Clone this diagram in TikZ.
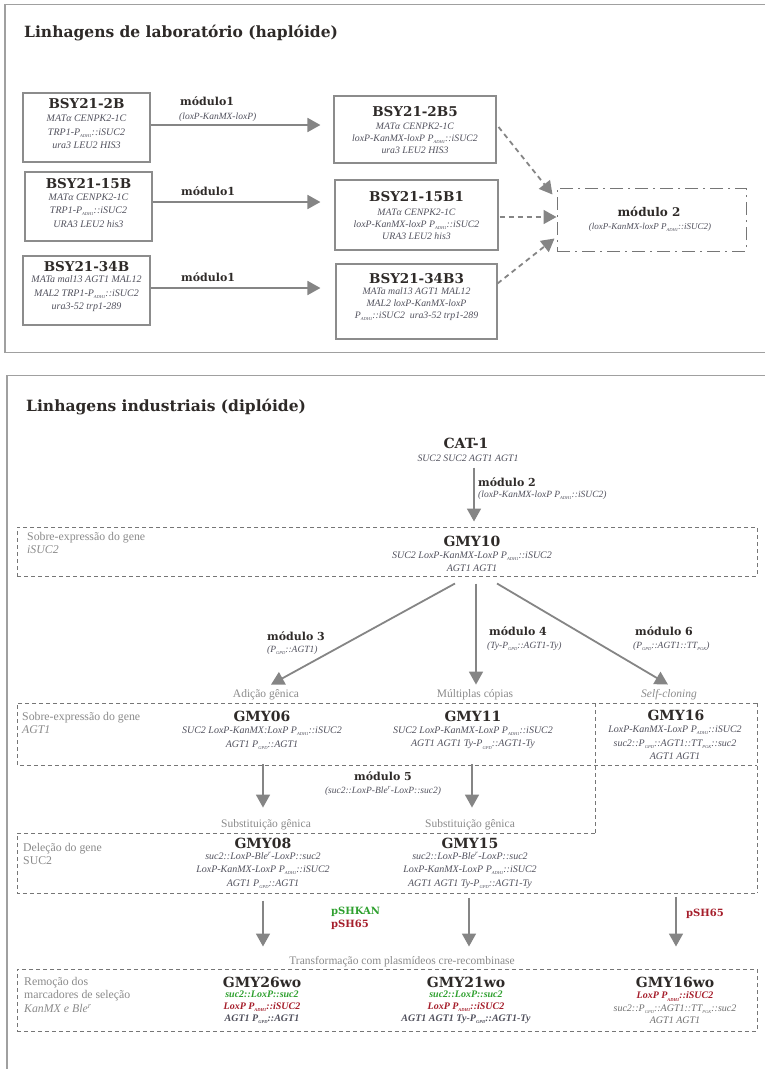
\documentclass[tikz,border=0pt]{standalone}
\usepackage{fontspec}
\setmainfont{Liberation Serif}
\newfontfamily\djv{DejaVu Serif}
\usetikzlibrary{arrows.meta,calc}
\definecolor{titc}{HTML}{2E2A28}
\definecolor{genoc}{HTML}{50505C}
\definecolor{labc}{HTML}{8A8A8A}
\definecolor{arrc}{HTML}{858585}
\definecolor{framec}{HTML}{A0A0A0}
\definecolor{boxc}{HTML}{8C8C8C}
\definecolor{dashc}{HTML}{767676}
\definecolor{grn}{HTML}{2FA02F}
\definecolor{rd}{HTML}{A51E2B}
\newcommand\sbx[1]{\raisebox{-0.45ex}{\fontsize{4.5}{5}\selectfont #1}}
\tikzset{
 frame/.style={draw=framec, line width=1.8pt},
 ttl/.style={font=\djv\bfseries\fontsize{15.5}{18}\selectfont, text=titc, inner sep=0, anchor=west},
 strain/.style={font=\djv\bfseries\fontsize{13.5}{15}\selectfont, text=titc, inner sep=0},
 gmy/.style={font=\djv\bfseries\fontsize{14}{16}\selectfont, text=titc, inner sep=0},
 geno/.style={font=\itshape\fontsize{10}{13.5}\selectfont, text=genoc, align=center, inner sep=0},
 genos/.style={font=\itshape\fontsize{9.8}{12}\selectfont, text=genoc, align=center, inner sep=0},
 mod/.style={font=\djv\bfseries\fontsize{11}{13}\selectfont, text=titc, inner sep=0},
 modp/.style={font=\itshape\fontsize{9.5}{12}\selectfont, text=genoc, inner sep=0},
 glab/.style={font=\fontsize{11.8}{13.5}\selectfont, text=labc, align=left, inner sep=0},
 catlab/.style={font=\fontsize{11.5}{12}\selectfont, text=labc, inner sep=0},
 labbox/.style={draw=boxc, line width=1.1pt, inner sep=0},
 arr/.style={draw=arrc, line width=1.8pt, -{Triangle[length=13pt,width=14pt]}},
 darr/.style={arr, dash pattern=on 5pt off 4pt},
 dbox/.style={draw=dashc, line width=1pt, dash pattern=on 4pt off 3pt},
}
\begin{document}
\begin{tikzpicture}[x=1pt,y=-1pt]
\useasboundingbox (0,0) rectangle (765,1069);
% ---------------- top panel ----------------
\draw[frame] (790,4.5) -- (5,4.5) -- (5,352.5) -- (790,352.5);
\node[ttl] (t1) at (24,33) {Linhagens de laboratório (haplóide)};

\node[labbox, minimum width=127pt, minimum height=69pt] (b1) at (86.5,127.5) {};
\node[strain] (b1n) at (86.5,104) {BSY21-2B};
\node[geno] (b1g) at (86.5,132) {MATα CENPK2-1C\\TRP1-P\sbx{ADH1}::iSUC2\\ura3 LEU2 HIS3};

\node[labbox, minimum width=127pt, minimum height=69pt] (b2) at (88.5,206.5) {};
\node[strain] (b2n) at (88.5,184) {BSY21-15B};
\node[geno] (b2g) at (88.5,210.5) {MATα CENPK2-1C\\TRP1-P\sbx{ADH1}::iSUC2\\URA3 LEU2 his3};

\node[labbox, minimum width=127pt, minimum height=69pt] (b3) at (86.5,290.5) {};
\node[strain] (b3n) at (86.5,267) {BSY21-34B};
\node[geno] (b3g) at (86.5,294) {MATa mal13 AGT1 MAL12\\MAL2 TRP1-P\sbx{ADH1}::iSUC2\\ura3-52 trp1-289};

\node[labbox, minimum width=162pt, minimum height=67pt] (r1) at (415,129.5) {};
\node[strain] (r1n) at (415,112) {BSY21-2B5};
\node[genos] (r1g) at (415,138) {MATα CENPK2-1C\\loxP-KanMX-loxP P\sbx{ADH1}::iSUC2\\ura3 LEU2 HIS3};

\node[labbox, minimum width=163pt, minimum height=70pt] (r2) at (416.5,215) {};
\node[strain] (r2n) at (416.5,197) {BSY21-15B1};
\node[genos] (r2g) at (416.5,224) {MATα CENPK2-1C\\loxP-KanMX-loxP P\sbx{ADH1}::iSUC2\\URA3 LEU2 his3};

\node[labbox, minimum width=161pt, minimum height=75pt] (r3) at (416.5,301.5) {};
\node[strain] (r3n) at (416.5,279) {BSY21-34B3};
\node[genos] (r3g) at (416.5,304.5) {MATa mal13 AGT1 MAL12\\MAL2 loxP-KanMX-loxP\\P\sbx{ADH1}::iSUC2\enspace ura3-52 trp1-289};

\node[mod, anchor=west] (m1a) at (180,101) {módulo1};
\node[modp, anchor=west] (m1p) at (179,117) {(loxP-KanMX-loxP)};
\node[mod, anchor=west] (m1b) at (181,191) {módulo1};
\node[mod, anchor=west] (m1c) at (181,277) {módulo1};

\draw[arr] ($(b1.east)+(0,-2.5)$) -- ($(b1.east -| r1.west)+(-13,-2.5)$);
\draw[arr] ($(b2.east)+(0,-4.5)$) -- ($(b2.east -| r2.west)+(-14,-4.5)$);
\draw[arr] ($(b3.east)+(0,-2.5)$) -- ($(b3.east -| r3.west)+(-15,-2.5)$);

\node[draw=dashc, line width=1pt, dash pattern=on 13pt off 5pt on 2pt off 5pt, minimum width=189pt, minimum height=63pt, inner sep=0] (m2) at (651.5,219.5) {};
\node[mod, font=\djv\bfseries\fontsize{12}{14}\selectfont] (m2t) at (649,212) {módulo 2};
\node[modp, font=\itshape\fontsize{9}{11}\selectfont] (m2p) at (650,227) {(loxP-KanMX-loxP P\sbx{ADH1}::iSUC2)};

\draw[darr] ($(r1.east)+(2,-2.5)$) -- ($(m2.north west)+(-4,7)$);
\draw[darr] ($(r2.east)+(1,2)$) -- ($(m2.west)+(0,-2.5)$);
\draw[darr] ($(r3.north east)+(0,20)$) -- ($(m2.south west)+(-2,-13)$);

% ---------------- lower panel ----------------
\draw[frame] (7,1090) -- (7,375.5) -- (790,375.5);
\node[ttl] (t2) at (26,407) {Linhagens industriais (diplóide)};

\node[gmy] (cat) at (466,443) {CAT-1};
\node[genos] (catg) at (468,458) {SUC2 SUC2 AGT1 AGT1};
\node[mod, anchor=west] (m2b) at (478,482) {módulo 2};
\node[modp, anchor=west] (m2bp) at (478,495) {(loxP-KanMX-loxP P\sbx{ADH1}::iSUC2)};

\node[dbox, minimum width=740pt, minimum height=49pt, inner sep=0] (b10) at (387,551.5) {};
\node[glab, anchor=north west] (l10) at (27,532) {Sobre-expressão do gene\\\textit{iSUC2}};
\node[gmy] (g10) at (472,541) {GMY10};
\node[geno] (g10g) at (472,561.5) {SUC2 LoxP-KanMX-LoxP P\sbx{ADH1}::iSUC2\\AGT1 AGT1};

\draw[arr] ($(cat.south)+(8,19)$) -- ($(b10.north -| g10.north)+(2,-5)$);

\node[catlab] (c1) at (266,695) {Adição gênica};
\node[catlab] (c2) at (475,695) {Múltiplas cópias};
\node[catlab, font=\itshape\fontsize{11.5}{12}\selectfont] (c3) at (669,695) {Self-cloning};

\coordinate (s3) at ($(b10.south -| g10.south)+(-17,7)$);
\coordinate (s4) at ($(b10.south -| g10.south)+(4,7)$);
\coordinate (s6) at ($(b10.south -| g10.south)+(25,7)$);
\draw[arr] (s3) -- ($(c1.north)+(5,-5)$);
\draw[arr] (s4) -- ($(c2.north)+(1,-5)$);
\draw[arr] (s6) -- ($(c3.north)+(-1,-5)$);

\node[mod, anchor=west] (m3) at (267,636) {módulo 3};
\node[modp, anchor=west] (m3p) at (267,650) {(P\sbx{GPD}::AGT1)};
\node[mod, anchor=west] (m4) at (489,631) {módulo 4};
\node[modp, anchor=west] (m4p) at (487,646) {(Ty-P\sbx{GPD}::AGT1-Ty)};
\node[mod, anchor=west] (m6) at (635,631) {módulo 6};
\node[modp, anchor=west] (m6p) at (633,646) {(P\sbx{GPD}::AGT1::TT\sbx{PGK})};

% second group of dashed frames
\draw[dbox] (757,703) -- (17,703) -- (17,765) -- (757,765);
\draw[dbox] (595,703) -- (595,833);
\draw[dbox] (757,703) -- (757,893);
\draw[dbox] (595,833) -- (17,833) -- (17,893) -- (757,893);

\node[glab, anchor=north west] (l06) at (22,712) {Sobre-expressão do gene\\\textit{AGT1}};
\node[gmy] (g06) at (262,716) {GMY06};
\node[geno] (g06g) at (262,738) {SUC2 LoxP-KanMX:LoxP P\sbx{ADH1}::iSUC2\\AGT1 P\sbx{GPD}::AGT1};
\node[gmy] (g11) at (473,716) {GMY11};
\node[geno] (g11g) at (473,738) {SUC2 LoxP-KanMX-LoxP P\sbx{ADH1}::iSUC2\\AGT1 AGT1 Ty-P\sbx{GPD}::AGT1-Ty};
\node[gmy] (g16) at (676,715) {GMY16};
\node[geno] (g16g) at (675,743) {LoxP-KanMX-LoxP P\sbx{ADH1}::iSUC2\\suc2::P\sbx{GPD}::AGT1::TT\sbx{PGK}::suc2\\AGT1 AGT1};

\node[mod] (m5) at (383,776) {módulo 5};
\node[modp] (m5p) at (383,791) {(suc2::LoxP-Ble\textsuperscript{r}-LoxP::suc2)};

\node[catlab] (c4) at (266,825) {Substituição gênica};
\node[catlab] (c5) at (470,825) {Substituição gênica};
\draw[arr] ($(g06g.south)+(1,15)$) -- ($(c4.north)+(-3,-12)$);
\draw[arr] ($(g11g.south)+(-1,15)$) -- ($(c5.north)+(2,-12)$);

\node[glab, anchor=north west] (l08) at (23,843) {Deleção do gene\\SUC2};
\node[gmy] (g08) at (263,843) {GMY08};
\node[geno] (g08g) at (263,870.5) {suc2::LoxP-Ble\textsuperscript{r}-LoxP::suc2\\LoxP-KanMX-LoxP P\sbx{ADH1}::iSUC2\\AGT1 P\sbx{GPD}::AGT1};
\node[gmy] (g15) at (470,843) {GMY15};
\node[geno] (g15g) at (470,870.5) {suc2::LoxP-Ble\textsuperscript{r}-LoxP::suc2\\LoxP-KanMX-LoxP P\sbx{ADH1}::iSUC2\\AGT1 AGT1 Ty-P\sbx{GPD}::AGT1-Ty};

\node[mod, font=\djv\bfseries\fontsize{10}{12}\selectfont, text=grn, anchor=west] (pk) at (331,912) {pSHKAN};
\node[mod, font=\djv\bfseries\fontsize{10}{12}\selectfont, text=rd, anchor=west] (p1) at (331,925) {pSH65};
\node[mod, font=\djv\bfseries\fontsize{10}{12}\selectfont, text=rd, anchor=west] (p2) at (686,914) {pSH65};

\node[catlab] (c6) at (402,962) {Transformação com plasmídeos cre-recombinase};
\node[dbox, minimum width=740pt, minimum height=62pt, inner sep=0] (bb) at (387,1000) {};

\node[glab, anchor=north west] (l26) at (24,977) {Remoção dos\\marcadores de seleção\\\textit{KanMX e Ble\textsuperscript{r}}};
\node[gmy] (g26) at (262,982) {GMY26wo};
\node[geno, font=\bfseries\itshape\fontsize{10}{12}\selectfont] (g26g) at (262,1007) {\textcolor{grn}{suc2::LoxP::suc2}\\\textcolor{rd}{LoxP P\sbx{ADH1}::iSUC2}\\AGT1 P\sbx{GPD}::AGT1};
\node[gmy] (g21) at (466,982) {GMY21wo};
\node[geno, font=\bfseries\itshape\fontsize{10}{12}\selectfont] (g21g) at (466,1007) {\textcolor{grn}{suc2::LoxP::suc2}\\\textcolor{rd}{LoxP P\sbx{ADH1}::iSUC2}\\AGT1 AGT1 Ty-P\sbx{GPD}::AGT1-Ty};
\node[gmy] (g16w) at (675,982) {GMY16wo};
\node[geno, font=\itshape\fontsize{10}{12.5}\selectfont, text=labc!80!black] (g16wg) at (675,1008) {\textbf{\textcolor{rd}{LoxP P\sbx{ADH1}::iSUC2}}\\suc2::P\sbx{GPD}::AGT1::TT\sbx{PGK}::suc2\\AGT1 AGT1};

\draw[arr] ($(g08g.south)+(0,12)$) -- ($(g26.north)+(1,-30)$);
\draw[arr] ($(g15g.south)+(-1,9)$) -- ($(g21.north)+(3,-30)$);
\draw[arr] ($(g16g.south |- bb.north)+(1,-72)$) -- ($(g16w.north)+(1,-30)$);
\end{tikzpicture}
\end{document}
